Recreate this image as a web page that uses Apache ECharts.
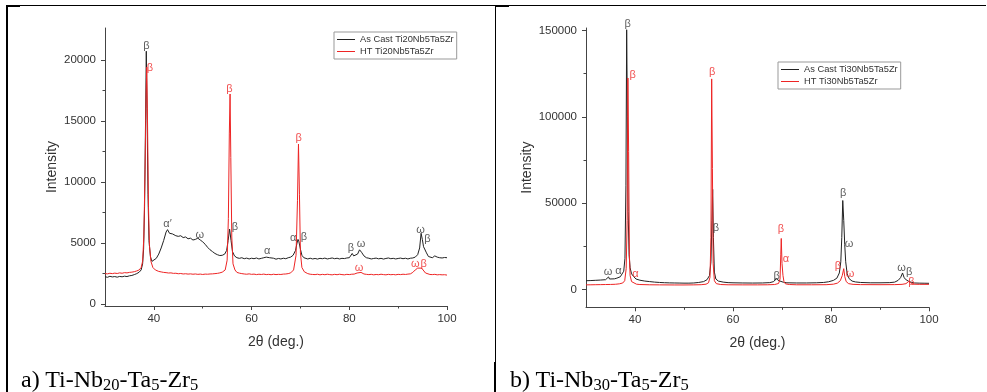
<!DOCTYPE html>
<html>
<head>
<meta charset="utf-8">
<script src="https://cdn.jsdelivr.net/npm/echarts@6/dist/echarts.min.js"></script>
<style>
  html, body { margin: 0; padding: 0; background: #fff; }
  #wrap { position: relative; width: 987px; height: 392px; overflow: hidden; }
  #chart { width: 987px; height: 392px; }
  .cap { position: absolute; top: 367px; font-family: 'Liberation Serif', 'Times New Roman', serif; font-size: 24px; line-height: 24px; color: #000; white-space: nowrap; }
  .cap span { font-size: 16.5px; position: relative; top: 3px; }
</style>
</head>
<body>
<div id="wrap">
  <div id="chart"></div>
  <div class="cap" style="left:21px">a) Ti-Nb<span>20</span>-Ta<span>5</span>-Zr<span>5</span></div>
  <div class="cap" style="left:510px">b) Ti-Nb<span>30</span>-Ta<span>5</span>-Zr<span>5</span></div>
</div>
<script>
// a) Ti20Nb5Ta5Zr, [2theta, intensity]
const castA = [
  [30, 2250], [30.5, 2200], [31, 2280], [31.5, 2230], [32, 2260], [32.5, 2210], [33, 2270], [33.5, 2240],
  [34, 2290], [34.5, 2260], [35, 2320], [35.5, 2350], [36, 2420], [36.5, 2500], [37, 2620], [37.4, 2800],
  [37.7, 3300], [37.9, 4500], [38.1, 8000], [38.3, 15000], [38.45, 20700], [38.6, 16000], [38.8, 9000],
  [39, 5200], [39.3, 3900], [39.6, 3500], [40, 3550], [40.5, 3750], [41, 4100], [41.5, 4600], [42, 5200],
  [42.5, 5900], [42.8, 6100], [43.2, 5800], [43.8, 5750], [44.5, 5600], [45, 5550], [45.5, 5600], [46, 5450],
  [46.5, 5500], [47, 5350], [47.5, 5400], [48, 5250], [48.5, 5300], [49, 5400], [49.5, 5250], [50, 5100],
  [50.5, 4900], [51, 4650], [51.5, 4450], [52, 4300], [52.5, 4150], [53, 4050], [53.5, 3980], [54, 4000],
  [54.5, 4100], [54.9, 4400], [55.2, 5200], [55.5, 6150], [55.8, 5200], [56.1, 4300], [56.5, 3950], [57, 3800],
  [57.5, 3750], [58, 3800], [58.5, 3720], [59, 3770], [59.5, 3700], [60, 3760], [60.5, 3720], [61, 3780],
  [61.5, 3700], [62, 3750], [62.5, 3800], [63, 3850], [63.3, 3980], [63.7, 3800], [64, 3700], [64.5, 3760],
  [65, 3680], [65.5, 3740], [66, 3700], [66.5, 3760], [67, 3720], [67.5, 3800], [68, 3850], [68.5, 4000],
  [69, 4400], [69.3, 5000], [69.5, 5300], [69.7, 5100], [70, 4500], [70.3, 4000], [70.7, 3800], [71, 3750],
  [71.5, 3700], [72, 3760], [72.5, 3700], [73, 3740], [73.5, 3690], [74, 3750], [74.5, 3720], [75, 3770],
  [75.5, 3700], [76, 3740], [76.5, 3780], [77, 3720], [77.5, 3760], [78, 3700], [78.5, 3750], [79, 3730],
  [79.5, 3780], [80, 3800], [80.3, 3900], [80.6, 4150], [80.9, 3950], [81.3, 3850], [81.7, 4100], [82.1, 4450],
  [82.5, 4250], [83, 3950], [83.5, 3800], [84, 3760], [84.5, 3700], [85, 3740], [85.5, 3770], [86, 3710],
  [86.5, 3750], [87, 3690], [87.5, 3740], [88, 3780], [88.5, 3720], [89, 3750], [89.5, 3700], [90, 3740],
  [90.5, 3770], [91, 3720], [91.5, 3760], [92, 3700], [92.5, 3760], [93, 3780], [93.5, 3850], [94, 4050],
  [94.4, 4600], [94.7, 5800], [94.95, 5300], [95.2, 4700], [95.5, 4800], [95.8, 4200], [96.2, 3900],
  [96.6, 3850], [97, 3800], [97.5, 3950], [98, 3850], [98.5, 3800], [99, 3780], [99.5, 3820], [100, 3800]
]
const htA = [
  [30, 2500], [30.5, 2480], [31, 2530], [31.5, 2500], [32, 2540], [32.5, 2510], [33, 2560], [33.5, 2530],
  [34, 2580], [34.5, 2560], [35, 2600], [35.5, 2620], [36, 2660], [36.5, 2720], [37, 2800], [37.4, 3000],
  [37.7, 3500], [37.95, 5500], [38.2, 11000], [38.4, 17000], [38.55, 19400], [38.7, 15000], [38.9, 8000],
  [39.1, 4800], [39.4, 3500], [39.8, 3000], [40.3, 2800], [41, 2680], [41.5, 2640], [42, 2600], [42.5, 2580],
  [43, 2550], [43.5, 2560], [44, 2520], [44.5, 2530], [45, 2490], [45.5, 2510], [46, 2470], [46.5, 2490],
  [47, 2460], [47.5, 2480], [48, 2450], [48.5, 2470], [49, 2440], [49.5, 2460], [50, 2430], [50.5, 2460],
  [51, 2450], [51.5, 2470], [52, 2480], [52.5, 2500], [53, 2520], [53.5, 2560], [54, 2620], [54.6, 2800],
  [55, 3600], [55.25, 7000], [55.45, 14000], [55.6, 17200], [55.75, 12000], [55.95, 5500], [56.2, 3300],
  [56.6, 2800], [57, 2600], [57.5, 2540], [58, 2500], [58.5, 2470], [59, 2450], [59.5, 2480], [60, 2440],
  [60.5, 2460], [61, 2420], [61.5, 2450], [62, 2430], [62.5, 2460], [63, 2420], [63.5, 2440], [64, 2410],
  [64.5, 2450], [65, 2420], [65.5, 2440], [66, 2430], [66.5, 2460], [67, 2470], [67.5, 2500], [68, 2560],
  [68.6, 2800], [69.1, 4000], [69.4, 8500], [69.6, 13100], [69.8, 9000], [70, 4200], [70.3, 3000],
  [70.8, 2650], [71.5, 2500], [72, 2450], [72.5, 2430], [73, 2420], [73.5, 2450], [74, 2400], [74.5, 2440],
  [75, 2410], [75.5, 2450], [76, 2420], [76.5, 2400], [77, 2440], [77.5, 2410], [78, 2450], [78.5, 2420],
  [79, 2400], [79.5, 2440], [80, 2420], [80.5, 2450], [81, 2460], [81.6, 2550], [82, 2680], [82.4, 2600],
  [83, 2470], [83.5, 2440], [84, 2420], [84.5, 2440], [85, 2400], [85.5, 2430], [86, 2410], [86.5, 2450],
  [87, 2420], [87.5, 2400], [88, 2440], [88.5, 2410], [89, 2430], [89.5, 2400], [90, 2440], [90.5, 2420],
  [91, 2450], [91.5, 2430], [92, 2460], [92.5, 2480], [93, 2600], [93.5, 2800], [94, 2950], [94.4, 2850],
  [94.8, 2950], [95.2, 2800], [95.6, 2550], [96, 2450], [96.5, 2430], [97, 2420], [97.5, 2440], [98, 2400],
  [98.5, 2420], [99, 2400], [99.5, 2410], [100, 2380]
]

// b) Ti30Nb5Ta5Zr
const castB = [
  [30, 5000], [31, 5100], [32, 5250], [33, 5400], [34, 5600], [34.4, 5900], [34.6, 7200], [34.8, 6000],
  [35.2, 5900], [35.8, 6100], [36.3, 6500], [36.7, 7600], [37, 7300], [37.4, 8200], [37.7, 10500],
  [37.95, 18000], [38.15, 60000], [38.3, 150500], [38.45, 100000], [38.6, 45000], [38.8, 20000],
  [39, 12500], [39.3, 9000], [39.7, 7500], [40.2, 6000], [41, 5300], [42, 4800], [43, 4500], [44, 4200],
  [45, 4000], [46, 3850], [47, 3750], [48, 3700], [49, 3650], [50, 3600], [51, 3600], [52, 3700],
  [53, 4000], [54, 4500], [54.7, 5600], [55.2, 8000], [55.5, 16000], [55.7, 40000], [55.85, 58000],
  [56, 30000], [56.2, 10000], [56.5, 6000], [57, 4800], [58, 4200], [59, 3900], [60, 3800], [62, 3700],
  [64, 3650], [66, 3700], [67.5, 3900], [68.3, 4500], [68.8, 6200], [69.1, 6800], [69.4, 5000],
  [69.8, 4400], [70.3, 4100], [71, 3800], [73, 3700], [75, 3700], [77, 3800], [78.5, 4000], [79.5, 4400],
  [80.5, 5200], [81.2, 6500], [81.7, 9500], [82, 16000], [82.2, 30000], [82.4, 51500], [82.6, 40000],
  [82.8, 26000], [83, 16000], [83.3, 9000], [83.7, 6200], [84.3, 4800], [85, 4300], [86, 4000],
  [88, 3800], [90, 3800], [92, 3900], [93, 4200], [93.7, 5200], [94.2, 6800], [94.6, 9500], [94.9, 7000],
  [95.2, 5800], [95.5, 6200], [95.9, 4600], [96.5, 4000], [97, 3700], [98, 3600], [99, 3550], [100, 3500]
]
const htB = [
  [30, 2600], [31, 2650], [32, 2700], [33, 2750], [34, 2800], [35, 2850], [36, 2950], [36.8, 3200],
  [37.5, 3700], [37.9, 5000], [38.2, 12000], [38.4, 40000], [38.55, 122500], [38.7, 80000], [38.85, 20000],
  [39, 8000], [39.3, 4500], [39.7, 3500], [40.3, 3000], [41, 2800], [43, 2650], [45, 2600], [48, 2550],
  [50, 2550], [52, 2600], [53.5, 2700], [54.5, 3000], [55, 3800], [55.3, 7000], [55.5, 30000],
  [55.65, 122000], [55.8, 70000], [55.95, 15000], [56.2, 5000], [56.6, 3300], [57.5, 2800], [59, 2650],
  [62, 2600], [65, 2600], [67, 2650], [68.5, 2800], [69.3, 3400], [69.6, 6000], [69.75, 20000],
  [69.85, 29500], [70, 15000], [70.2, 8000], [70.4, 4500], [70.7, 3200], [71.5, 2800], [73, 2650],
  [76, 2650], [79, 2700], [80.5, 3000], [81.3, 3600], [81.9, 5000], [82.3, 8000], [82.6, 12000],
  [82.8, 7500], [83.1, 4500], [83.6, 3300], [84.5, 2900], [86, 2750], [90, 2700], [93, 2750], [94.5, 2900],
  [95.3, 3300], [95.8, 4500], [96.2, 3600], [96.8, 3000], [98, 2900], [100, 2900]
]

// phase labels [2theta, intensity, text]
const tagsCastA = [
  [38.5, 21100, 'β'], [42.8, 6580, 'α\u2032'], [49.4, 5680, 'ω'], [56.6, 6310, 'β'], [63.2, 4370, 'α'],
  [68.5, 5410, 'α'], [70.7, 5540, 'β'], [80.35, 4590, 'β'], [82.4, 4940, 'ω'], [94.6, 6090, 'ω'], [96.0, 5330, 'β']
]
const tagsHtA = [
  [39.2, 19340, 'β'], [55.45, 17620, 'β'], [69.65, 13600, 'β'], [82.0, 2980, 'ω'], [93.5, 3250, 'ω'], [95.2, 3250, 'β']
]
const tagsCastB = [
  [38.5, 153700, 'β'], [34.5, 10200, 'ω'], [36.6, 10800, 'α'], [56.5, 35300, 'β'], [68.9, 7700, 'β'],
  [82.5, 55600, 'β'], [83.7, 26600, 'ω'], [94.4, 12200, 'ω'], [95.95, 10200, 'β']
]
const tagsHtB = [
  [39.5, 124200, 'β'], [40.1, 8860, 'α'], [55.75, 126100, 'β'], [69.8, 34900, 'β'], [70.8, 17900, 'α'],
  [81.4, 13500, 'β'], [83.9, 8700, 'ω'], [96.4, 4400, 'β']
]

const xTicks = [40, 60, 80, 100]
const xMinor = [50, 70, 90]
const yTicksA = [0, 5000, 10000, 15000, 20000]
const yMinorA = [2500, 7500, 12500, 17500]
const yTicksB = [0, 50000, 100000, 150000]
const yMinorB = [25000, 75000, 125000]

const namesA = ['As Cast Ti20Nb5Ta5Zr', 'HT Ti20Nb5Ta5Zr']
const namesB = ['As Cast Ti30Nb5Ta5Zr', 'HT Ti30Nb5Ta5Zr']

const font = 'Liberation Sans, Arial, sans-serif'
const black = '#222'
const red = '#ee2424'
const axisColor = '#444'

const majorAxis = (dim, gridIndex, min, max, ticks, name, nameGap) => ({
  type: 'value',
  gridIndex,
  position: dim === 'x' ? 'bottom' : 'left',
  min,
  max,
  name,
  nameLocation: 'middle',
  nameGap,
  nameTextStyle: { fontFamily: font, fontSize: 14, color: '#333' },
  axisLine: { show: true, onZero: false, lineStyle: { color: axisColor, width: 1 } },
  axisTick: { show: true, inside: false, length: 4, customValues: ticks, lineStyle: { color: axisColor } },
  axisLabel: {
    customValues: ticks,
    margin: dim === 'x' ? 7 : 9,
    fontFamily: font,
    fontSize: 11.5,
    color: '#333',
    formatter: v => String(v)
  },
  splitLine: { show: false }
})

// second axis on the same side, only for the short minor ticks
const minorAxis = (dim, gridIndex, min, max, ticks) => ({
  type: 'value',
  gridIndex,
  position: dim === 'x' ? 'bottom' : 'left',
  offset: 0,
  min,
  max,
  axisLine: { show: false, onZero: false },
  axisTick: { show: true, inside: false, length: 2.5, customValues: ticks, lineStyle: { color: axisColor } },
  axisLabel: { show: false },
  splitLine: { show: false }
})

const lineSeries = (name, idx, data, color) => ({
  name,
  type: 'line',
  xAxisIndex: idx,
  yAxisIndex: idx,
  data,
  symbol: 'none',
  showSymbol: false,
  lineStyle: { color, width: 1 },
  itemStyle: { color },
  z: color === red ? 3 : 2
})

const tagSeries = (idx, tags, color) => ({
  type: 'scatter',
  xAxisIndex: idx,
  yAxisIndex: idx,
  data: tags.map(t => ({ value: [t[0], t[1]], name: t[2] })),
  symbolSize: 1,
  itemStyle: { color: 'rgba(0,0,0,0)' },
  clip: false,
  silent: true,
  z: 5,
  label: { show: true, position: 'inside', formatter: '{b}', color, fontFamily: font, fontSize: 11 }
})

const legendBox = (data, left, top) => ({
  data,
  orient: 'vertical',
  left,
  top,
  icon: 'rect',
  itemWidth: 18,
  itemHeight: 1,
  itemGap: 1,
  padding: [2, 3, 2, 3],
  borderColor: '#999',
  borderWidth: 1,
  selectedMode: false,
  textStyle: { fontFamily: font, fontSize: 9.3, color: '#333', lineHeight: 11 }
})

const border = (x1, y1, x2, y2, w) => ({
  type: 'line',
  shape: { x1, y1, x2, y2 },
  style: { stroke: '#000', lineWidth: w },
  silent: true
})

const chart = echarts.init(document.getElementById('chart'))
chart.setOption({
  animation: false,
  backgroundColor: '#fff',
  grid: [
    { left: 105, top: 28, width: 342, height: 278 },
    { left: 586, top: 28, width: 343, height: 279.3 }
  ],
  xAxis: [
    majorAxis('x', 0, 30, 100, xTicks, '2θ (deg.)', 29),
    majorAxis('x', 1, 30, 100, xTicks, '2θ (deg.)', 29),
    minorAxis('x', 0, 30, 100, xMinor),
    minorAxis('x', 1, 30, 100, xMinor)
  ],
  yAxis: [
    majorAxis('y', 0, -150, 22600, yTicksA, 'Intensity', 46),
    majorAxis('y', 1, -10400, 151500, yTicksB, 'Intensity', 52),
    minorAxis('y', 0, -150, 22600, yMinorA),
    minorAxis('y', 1, -10400, 151500, yMinorB)
  ],
  legend: [legendBox(namesA, 334, 32), legendBox(namesB, 778, 62)],
  series: [
    lineSeries(namesA[0], 0, castA, black),
    lineSeries(namesA[1], 0, htA, red),
    lineSeries(namesB[0], 1, castB, black),
    lineSeries(namesB[1], 1, htB, red),
    tagSeries(0, tagsCastA, '#333'),
    tagSeries(0, tagsHtA, red),
    tagSeries(1, tagsCastB, '#333'),
    tagSeries(1, tagsHtB, red)
  ],
  graphic: [
    border(6, 5.5, 986, 5.5, 1),
    border(6, 6, 20, 6, 2),
    border(495, 6, 509, 6, 2),
    border(7, 5, 7, 392, 2),
    border(495.5, 5, 495.5, 392, 1),
    border(494.5, 362, 494.5, 392, 1)
  ]
})
</script>
</body>
</html>
